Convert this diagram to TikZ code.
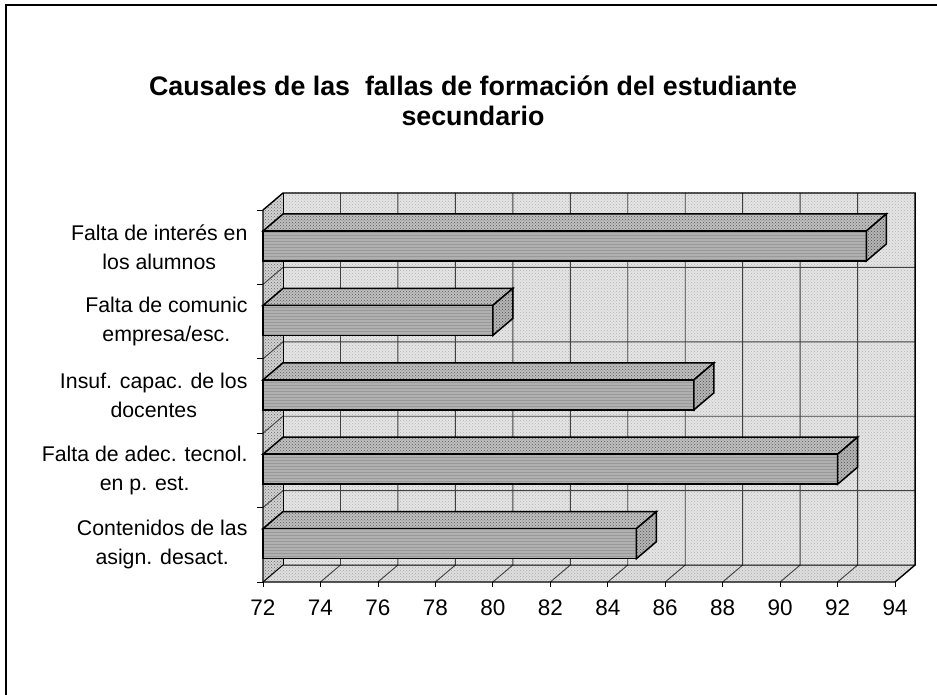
\documentclass[tikz,border=0pt]{standalone}
\usepackage{fontspec}
\setmainfont{Liberation Sans}
\usetikzlibrary{patterns}

\begin{document}
\begin{tikzpicture}[x=1pt, y=-1pt,
		cat/.style={anchor=east, align=center, font=\fontsize{21.3}{29}\selectfont},
		ticklab/.style={font=\fontsize{22.5}{24}\selectfont},
		bartop/.style={preaction={fill=gray!50}, pattern=crosshatch dots, pattern color=black!65, draw=black, line width=1.5pt},
		barfront/.style={preaction={fill=gray!62}, pattern=horizontal lines, pattern color=black!40, draw=black, line width=1.5pt},
		barend/.style={preaction={fill=gray!58}, pattern=crosshatch dots, pattern color=black!70, draw=black, line width=1.5pt},
		grid/.style={black!75, line width=0.9pt}]
			\def \xo{263}
			\def \u{28.73}
			\def \dx{20}
			\def \dy{17}
			\def \yf{582}
			\def \yo{210}
			\def \h{74.4}
			\pgfmathsetmacro \xe{\xo+22*\u}
			\useasboundingbox (0,0) rectangle (937,695);
			\draw[line width=1.5pt] (6,695) -- (6,5) -- (937,5);

			\node[font=\bfseries\fontsize{26.8}{30}\selectfont, align=center] (titulo) at (473,101) {Causales de las\ \ fallas de formación del estudiante\\secundario};

			% paredes
			\fill[gray!20] (\xo+\dx,\yo-\dy) rectangle (\xe+\dx,\yf-\dy);
			\fill[pattern=crosshatch dots, pattern color=gray!60] (\xo+\dx,\yo-\dy) rectangle (\xe+\dx,\yf-\dy);
			\fill[gray!35] (\xo,\yf) -- ++(\dx,-\dy) -- (\xo+\dx,\yo-\dy) -- (\xo,\yo) -- cycle;
			\fill[pattern=crosshatch dots, pattern color=black!60] (\xo,\yf) -- ++(\dx,-\dy) -- (\xo+\dx,\yo-\dy) -- (\xo,\yo) -- cycle;
			\fill[gray!25] (\xo,\yf) -- (\xe,\yf) -- ++(\dx,-\dy) -- (\xo+\dx,\yf-\dy) -- cycle;
			\fill[pattern=crosshatch dots, pattern color=gray!70] (\xo,\yf) -- (\xe,\yf) -- ++(\dx,-\dy) -- (\xo+\dx,\yf-\dy) -- cycle;

			\foreach \v in {2,4,...,20} {
				\draw[grid] (\xo+\v*\u,\yf) -- ++(\dx,-\dy) -- (\xo+\v*\u+\dx,\yo-\dy);
			}
			\foreach \k in {1,...,4} {
				\draw[grid] (\xo,\yo+\k*\h) -- ++(\dx,-\dy) -- (\xe+\dx,\yo+\k*\h-\dy);
			}
			\draw[line width=1.4pt] (\xo,\yf) -- (\xe,\yf) -- ++(\dx,-\dy) -- (\xe+\dx,\yo-\dy) -- (\xo+\dx,\yo-\dy) -- (\xo,\yo) -- cycle;
			\draw[line width=1pt] (\xo,\yf) -- ++(\dx,-\dy) -- (\xe+\dx,\yf-\dy);
			\draw[line width=1pt] (\xo+\dx,\yf-\dy) -- (\xo+\dx,\yo-\dy);

			% barras
			\foreach \val/\lab [count=\k from 0] in {93/{Falta de interés en\\los alumnos}, 80/{Falta de comunic\\empresa/esc.}, 87/{Insuf. capac. de los\\docentes}, 92/{Falta de adec. tecnol.\\en p. est.}, 85/{Contenidos de las\\asign. desact.}} {
				\pgfmathsetmacro \xb{\xo+(\val-72)*\u}
				\pgfmathsetmacro \ya{\yo+\k*\h+21}
				\pgfmathsetmacro \yb{\ya+30}
				\draw[bartop] (\xo,\ya) -- (\xb,\ya) -- ++(\dx,-\dy) -- (\xo+\dx,\ya-\dy) -- cycle;
				\draw[barfront] (\xo,\ya) rectangle (\xb,\yb);
				\draw[barend] (\xb,\ya) -- ++(\dx,-\dy) -- ++(0,30) -- (\xb,\yb) -- cycle;
				\node[cat] (c\k) at (251,\yo+\k*\h+37) {\lab};
			}

			% marcas y escala
			\foreach \k in {0,...,5} {
				\draw[line width=0.8pt] (\xo,\yo+\k*\h) -- ++(-6,0);
			}
			\foreach \v in {72,74,...,94} {
				\draw[line width=0.8pt] (\xo+\v*\u-72*\u,\yf) -- ++(0,5);
				\node[ticklab] (t\v) at (\xo+\v*\u-72*\u,608) {\v};
			}
		\end{tikzpicture}
\end{document}
